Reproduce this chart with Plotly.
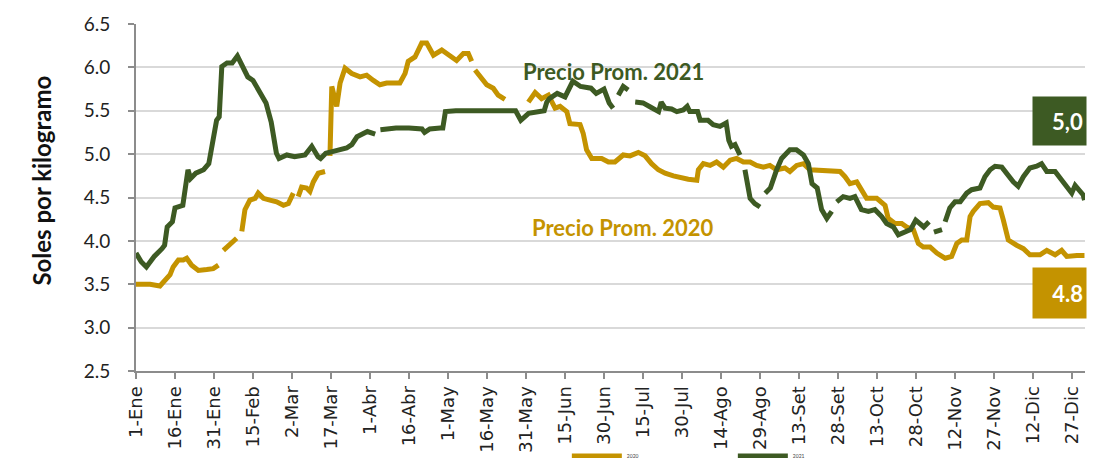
import plotly.graph_objects as go

# ---- data (day index from 1-Ene; None = no data) ----
days_2021 = [0, 2, 4, 7, 10, 11, 12, 14, 15, 18, 20, 21, 23, 26, 28, 29.5, 31, 32, 33, 35, 37, 39, 41, 43,
             45, 48, 50, 52, 54, 55, 58, 61, 65, 67.6, 70, 71, 73, 77, 81, 83, 85, 89, 92, 93, 94, 100,
             105, 110, 111, 113, 117, 118, 119, 123, 146, 148, 151, 157, 158, 159, 162, 165, 168, 171,
             175, 177, 180, 182, 183.5, 184.5, 185.5, 187.4, 189.3, 190.5, 192, 195, 198, 201, 202,
             203.5, 206, 208, 210.5, 212, 213, 216, 217, 220, 222, 224.6, 227, 228, 229, 230.4, 232.3,
             233.3, 234.2, 236.2, 238, 240, 241, 242, 244, 246.4, 248.3, 251.5, 254, 256.7, 258.6, 260,
             262, 263.7, 265.7, 267.6, 268.5, 269.5, 272, 274.6, 276.5, 279, 281.7, 284.2, 286.8, 288.7,
             291.3, 293.2, 295.2, 297.9, 299.9, 303, 305, 306, 306.9, 310, 310.7, 311.2, 313, 315, 317,
             319.5, 321.4, 324.6, 326.5, 328.5, 330.4, 333, 335.5, 337.4, 339.3, 341.3, 343.8, 346.4,
             348.3, 350.3, 353.5, 356, 358, 359.9, 361.2, 362.4, 364.3, 364.8]
price_2021 = [3.86, 3.76, 3.70, 3.82, 3.91, 3.95, 4.16, 4.22, 4.38, 4.41, 4.82, 4.72, 4.78, 4.82, 4.89, 5.12,
              5.39, 5.43, 6.01, 6.05, 6.05, 6.13, 6.01, 5.89, 5.85, 5.70, 5.59, 5.37, 5.01, 4.95, 4.99,
              4.97, 4.99, 5.09, 4.97, 4.95, 5.01, 5.04, 5.07, 5.11, 5.20, 5.26, 5.23, None, 5.28, 5.30,
              5.30, 5.29, 5.25, 5.29, 5.30, 5.30, 5.49, 5.50, 5.50, 5.39, 5.47, 5.50, 5.60, 5.64, 5.70,
              5.66, 5.84, 5.78, 5.76, 5.70, 5.75, 5.59, 5.53, None, 5.68, 5.78, 5.74, None, 5.60, 5.59,
              5.54, 5.49, 5.60, 5.53, 5.52, 5.49, 5.51, 5.55, 5.49, 5.49, 5.39, 5.39, 5.34, 5.32, 5.36,
              5.16, 5.09, 5.11, 4.99, None, 4.82, 4.49, 4.43, 4.39, None, 4.55, 4.61, 4.82, 4.95, 5.05,
              5.05, 4.99, 4.89, 4.66, 4.61, 4.36, 4.26, 4.34, None, 4.45, 4.51, 4.49, 4.51, 4.36, 4.34,
              4.36, 4.28, 4.20, 4.16, 4.07, 4.09, 4.13, 4.24, 4.16, 4.22, None, 4.10, 4.13, None, 4.22,
              4.38, 4.45, 4.45, 4.55, 4.59, 4.61, 4.74, 4.82, 4.86, 4.85, 4.74, 4.68, 4.63, 4.74, 4.84,
              4.86, 4.89, 4.80, 4.80, 4.70, 4.61, 4.55, 4.64, 4.59, 4.53, 4.47]

days_2020 = [0, 5.4, 9.2, 11.2, 13.1, 14.3, 16.3, 18.2, 19.5, 21.4, 24, 27.2, 29.7, 31.7, 32.6, 33.6, 36.2,
             38.7, 39.7, 40.7, 41.9, 43.8, 45.8, 47, 49, 51.5, 54.1, 56.7, 58.6, 60.5, 61.6, 62.4, 63.7,
             65.6, 66.9, 68.2, 70.1, 72.7, 73.6, 74.6, 75.3, 77.2, 78.5, 80.4, 83, 86.2, 88.7, 91.3,
             93.8, 96.4, 101.5, 103.5, 104.7, 107.3, 109.9, 111.8, 114.4, 117.6, 119.5, 120.8, 123.3,
             125.9, 127.8, 129.1, 129.8, 130.4, 133, 134.9, 137.4, 139.3, 141.9, 146, 150.9, 153.5, 156,
             158.6, 161.2, 163.1, 165.7, 166.9, 170.8, 172, 173.3, 175.3, 179.1, 181.7, 184.2, 185.5,
             187.4, 190, 193.2, 195.8, 198.3, 200.9, 203.5, 206.7, 209.2, 212.4, 215.7, 216.3, 218.2,
             220.8, 223.3, 225.9, 228.5, 231, 233.6, 236.2, 238.7, 241.3, 243.8, 246.4, 249.6, 251.5,
             254.1, 256.7, 259.2, 270.8, 272.7, 274.6, 277.2, 278.5, 281, 284.9, 288.1, 289.3, 291.9,
             294.5, 296.4, 299, 300.9, 302.8, 305.4, 308, 311.2, 313.7, 315.7, 317.6, 319.5, 320.8, 322,
             324.6, 327.8, 329.7, 332.3, 333.6, 335.5, 338.7, 341.3, 343.8, 347.7, 350.3, 353.5, 356,
             358, 361.9, 364.8]
price_2020 = [3.50, 3.50, 3.48, 3.54, 3.61, 3.70, 3.78, 3.78, 3.80, 3.72, 3.66, 3.67, 3.68, 3.72, None, 3.89,
              3.97, 4.03, None, 4.11, 4.36, 4.47, 4.49, 4.55, 4.49, 4.47, 4.45, 4.41, 4.43, 4.55, None,
              4.51, 4.62, 4.61, 4.57, 4.68, 4.78, 4.80, None, 4.98, 5.78, 5.55, 5.82, 5.99, 5.93, 5.89,
              5.91, 5.85, 5.80, 5.82, 5.82, 5.93, 6.07, 6.12, 6.28, 6.28, 6.14, 6.20, 6.16, 6.14, 6.08,
              6.16, 6.16, 6.07, None, 5.97, 5.87, 5.80, 5.76, 5.68, 5.63, None, 5.60, 5.71, 5.64, 5.68,
              5.53, 5.55, 5.49, 5.35, 5.34, 5.24, 5.05, 4.95, 4.95, 4.91, 4.91, 4.95, 4.99, 4.98, 5.02,
              4.98, 4.89, 4.82, 4.78, 4.75, 4.73, 4.71, 4.70, 4.82, 4.89, 4.87, 4.91, 4.85, 4.93, 4.95,
              4.91, 4.91, 4.87, 4.85, 4.87, 4.82, 4.84, 4.80, 4.87, 4.89, 4.82, 4.80, 4.74, 4.66, 4.68,
              4.61, 4.49, 4.49, 4.41, 4.26, 4.20, 4.20, 4.16, 4.13, 3.97, 3.93, 3.93, 3.86, 3.80, 3.82,
              3.97, 4.01, 4.01, 4.28, 4.34, 4.43, 4.44, 4.39, 4.38, 4.24, 4.01, 3.95, 3.91, 3.84, 3.84,
              3.89, 3.84, 3.89, 3.82, 3.83, 3.83]

tick_days = [0, 15, 30, 45, 60, 75, 90, 105, 120, 135, 150, 165, 180, 195, 210, 225, 240, 255, 270,
             285, 300, 315, 330, 345, 360]
tick_labels = ["1-Ene", "16-Ene", "31-Ene", "15-Feb", "2-Mar", "17-Mar", "1-Abr", "16-Abr", "1-May",
               "16-May", "31-May", "15-Jun", "30-Jun", "15-Jul", "30-Jul", "14-Ago", "29-Ago", "13-Set",
               "28-Set", "13-Oct", "28-Oct", "12-Nov", "27-Nov", "12-Dic", "27-Dic"]
y_ticks = [2.5, 3.0, 3.5, 4.0, 4.5, 5.0, 5.5, 6.0, 6.5]

GREEN = "#3d5a23"
GOLD = "#c49300"

fig = go.Figure()
fig.add_trace(go.Scatter(x=days_2020, y=price_2020, mode="lines", name="2020",
                         line=dict(color=GOLD, width=5), connectgaps=False))
fig.add_trace(go.Scatter(x=days_2021, y=price_2021, mode="lines", name="2021",
                         line=dict(color=GREEN, width=5), connectgaps=False))

fig.update_xaxes(range=[0, 365], tickvals=tick_days, ticktext=tick_labels, tickangle=-90,
                 showgrid=False, showline=True, linecolor="#8c8c8c", linewidth=2,
                 ticks="outside", ticklen=6, tickcolor="#8c8c8c", tickwidth=1.5,
                 tickfont=dict(family="DejaVu Sans", size=18, color="#222222"), zeroline=False)
fig.update_yaxes(range=[2.5, 6.5], tickvals=y_ticks, ticktext=[f"{v:.1f}" for v in y_ticks],
                 showgrid=True, gridcolor="#d9d9d9", gridwidth=2,
                 showline=True, linecolor="#8c8c8c", linewidth=2,
                 ticks="outside", ticklen=6, tickcolor="#8c8c8c", tickwidth=1.5,
                 ticklabelstandoff=14,
                 tickfont=dict(family="Lato", size=19, color="#222222"), zeroline=False)

annotations = [
    dict(text="<b>Soles por kilogramo</b>", xref="paper", yref="paper", x=-0.117, y=0.55,
         textangle=-90, showarrow=False, font=dict(family="Lato", size=24, color="#111111")),
    dict(text="<b>Precio Prom. 2021</b>", xref="x", yref="y", x=183.8, y=5.95, showarrow=False,
         font=dict(family="Lato", size=22, color=GREEN)),
    dict(text="<b>Precio Prom. 2020</b>", xref="x", yref="y", x=187.3, y=4.15, showarrow=False,
         font=dict(family="Lato", size=22, color=GOLD)),
    dict(text="<b>5,0</b>", xref="paper", yref="paper", x=1.0021, y=0.7205, xanchor="right",
         yanchor="middle", width=47, height=42, align="right", valign="middle", bgcolor=GREEN,
         borderpad=3, showarrow=False, font=dict(family="Lato", size=22, color="white")),
    dict(text="<b>4.8</b>", xref="paper", yref="paper", x=1.0021, y=0.2248, xanchor="right",
         yanchor="middle", width=47, height=44, align="right", valign="middle", bgcolor=GOLD,
         borderpad=3, showarrow=False, font=dict(family="Lato", size=22, color="white")),
]

# the page body adds an 8px offset on every side; size the figure so the page does not overflow
fig.update_layout(
    width=1079, height=450,
    margin=dict(l=128, r=2, t=16, b=87, autoexpand=False),
    paper_bgcolor="white", plot_bgcolor="white",
    annotations=annotations,
    showlegend=True,
    legend=dict(orientation="h", x=0.454, y=-0.287, xanchor="left", yanchor="bottom",
                font=dict(family="Lato", size=5, color="#444444"), entrywidth=101,
                entrywidthmode="pixels", itemwidth=50, bgcolor="rgba(0,0,0,0)",
                tracegroupgap=0, borderwidth=0),
)

fig.write_html("out.html")
